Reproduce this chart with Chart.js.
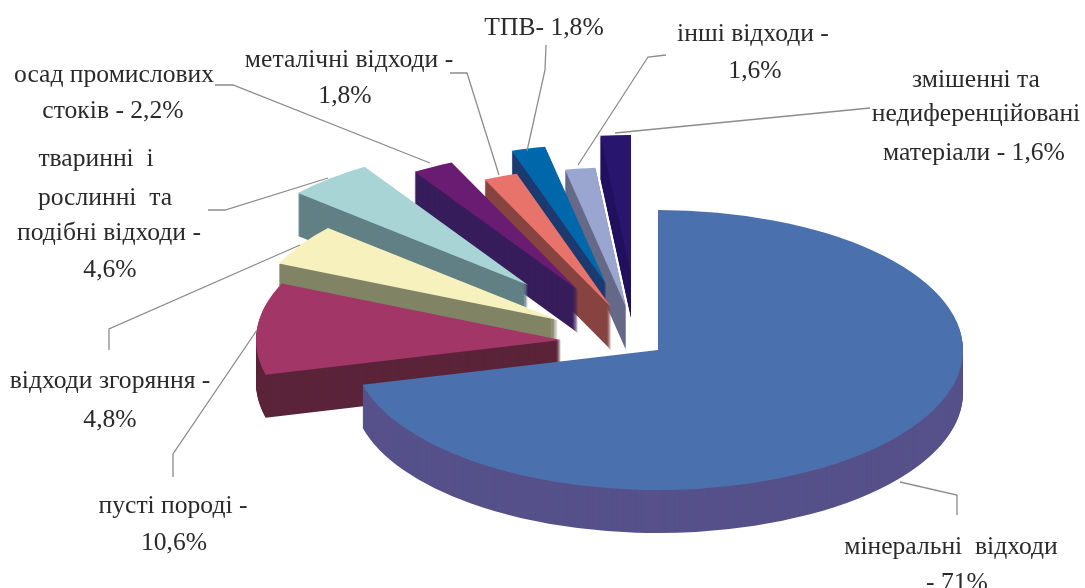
<!DOCTYPE html>
<html lang="uk">
<head>
<meta charset="utf-8">
<title>Відходи</title>
<script src="https://cdn.jsdelivr.net/npm/chart.js@4"></script>
<style>
    html, body { margin: 0; padding: 0; background: #ffffff; }
    /* the original is a soft, upscaled scan */
    canvas { display: block; filter: blur(0.6px); }
</style>
</head>
<body>
<canvas id="wastePie" width="1085" height="588"></canvas>
<script>
// Values, going clockwise from the top
const categories = [
    'мінеральні відходи', 'пусті породі', 'відходи згоряння',
    'тваринні і рослинні та подібні відходи', 'осад промислових стоків',
    'металічні відходи', 'ТПВ', 'інші відходи',
    'змішенні та недиференційовані матеріали'
];
const values = [71, 10.6, 4.8, 4.6, 2.2, 1.8, 1.8, 1.6, 1.6];

const topColors = ['#4a71ae', '#a23666', '#f7f2bd', '#a9d4d6', '#6a1b72', '#e8736a', '#0067ab', '#9aa6cf', '#28156e'];
const wallColors = ['#56518a', '#5b2439', '#808465', '#628085', '#371d5c', '#87433f', '#1c3a70', '#666a88', '#21125f'];

// How far each slice is pulled out of the pie (not radial in the original)
const explodeX = [0, -97, -100, -130, -80, -47, -52, -32, -27];
const explodeY = [0, -10, -30, -65, -60, -43, -66, -43, -75];

// Pie tilt
const pieCenterX = 658;
const pieCenterY = 350;
const pieRadius = 305;
const tilt = 140 / 305;
const pieDepth = 43;

const labelFont = "25.6px 'Liberation Serif', serif";
const labelTexts = [
    ['ТПВ- 1,8%', 544, 35],
    ['інші відходи -', 753, 41],
    ['1,6%', 755, 78],
    ['змішенні та', 976, 87],
    ['недиференційовані', 976, 121],
    ['матеріали - 1,6%', 974, 160],
    ['металічні відходи -', 349, 67],
    ['1,8%', 345, 103],
    ['осад промислових', 114, 82],
    ['стоків - 2,2%', 113, 118],
    ['тваринні  і', 96, 166],
    ['рослинні  та', 105, 205],
    ['подібні відходи -', 109, 240],
    ['4,6%', 110, 277],
    ['відходи згоряння -', 110, 388],
    ['4,8%', 110, 427],
    ['пусті породі -', 173, 513],
    ['10,6%', 174, 550],
    ['мінеральні  відходи', 951, 554],
    ['- 71%', 957, 590]
];
const leaderLines = [
    [[215, 85], [233, 85], [430, 163]],
    [[208, 210], [225, 210], [328, 178]],
    [[109, 350], [109, 329], [300, 245]],
    [[173, 477], [173, 454], [257, 330]],
    [[450, 73], [467, 73], [499, 175]],
    [[546, 45], [545, 70], [527, 151]],
    [[666, 55], [648, 57], [578, 165]],
    [[870, 108], [615, 133]],
    [[957, 515], [957, 495], [900, 482]]
];

// Draws the slices squashed into an ellipse and extruded downwards
const tiltedPie = {
    id: 'tiltedPie',
    beforeDatasetDraw(chart, args) {
        const ctx = chart.ctx;
        const arcs = args.meta.data;
        // back slices first, so the front ones overlap them
        for (let i = arcs.length - 1; i >= 0; i--) {
            const arc = arcs[i];
            const fill = arc.options.backgroundColor;
            for (let d = pieDepth; d >= 0; d--) {
                arc.options.backgroundColor = d === 0 ? fill : wallColors[i];
                ctx.save();
                ctx.translate(pieCenterX + explodeX[i], pieCenterY + explodeY[i] + d);
                ctx.scale(1, tilt);
                ctx.translate(-arc.x, -arc.y);
                arc.draw(ctx);
                ctx.restore();
            }
        }
        return false;
    },
    afterDraw(chart) {
        const ctx = chart.ctx;
        ctx.save();
        ctx.strokeStyle = '#8c8c8c';
        ctx.lineWidth = 1.3;
        leaderLines.forEach(points => {
            ctx.beginPath();
            points.forEach((p, n) => n ? ctx.lineTo(p[0], p[1]) : ctx.moveTo(p[0], p[1]));
            ctx.stroke();
        });
        ctx.fillStyle = '#2a2a2a';
        ctx.font = labelFont;
        ctx.textAlign = 'center';
        labelTexts.forEach(t => ctx.fillText(t[0], t[1], t[2]));
        ctx.restore();
    }
};

new Chart(document.getElementById('wastePie'), {
    type: 'pie',
    data: {
        labels: categories,
        datasets: [{
            data: values,
            backgroundColor: topColors,
            borderWidth: 0,
            radius: pieRadius,
            clip: false
        }]
    },
    options: {
        responsive: false,
        animation: false,
        events: [],
        plugins: {
            legend: { display: false },
            tooltip: { enabled: false }
        }
    },
    plugins: [tiltedPie]
});
</script>
</body>
</html>
